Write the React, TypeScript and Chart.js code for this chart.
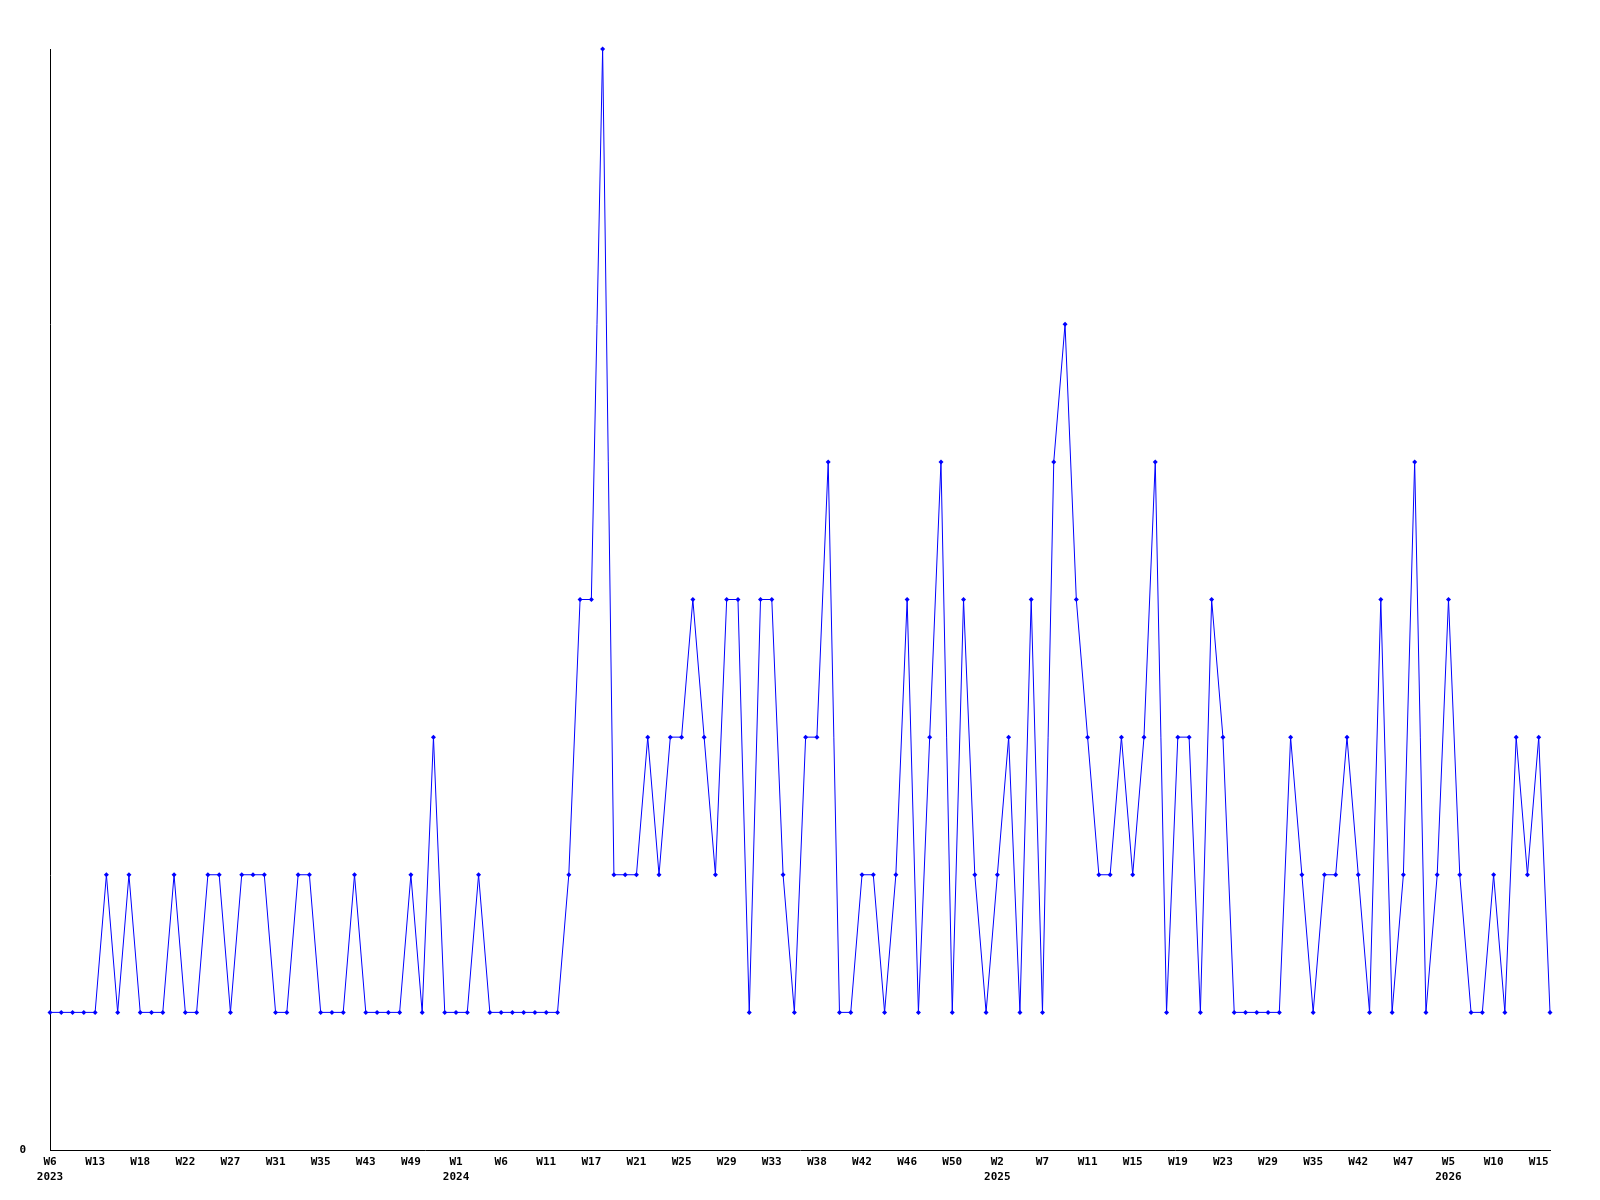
import React, { useEffect, useRef } from "react";
import { Chart, registerables } from "chart.js";

Chart.register(...registerables);

// Tick labels shown every 4th data point (week, optional year on 2nd line)
const tickWeeks: string[] = [
  "W6", "W13", "W18", "W22", "W27", "W31", "W35", "W43", "W49",
  "W1", "W6", "W11", "W17", "W21", "W25", "W29", "W33", "W38", "W42", "W46", "W50",
  "W2", "W7", "W11", "W15", "W19", "W23", "W29", "W35", "W42", "W47",
  "W5", "W10", "W15",
];
const tickYears: string[] = [
  "2023", "", "", "", "", "", "", "", "",
  "2024", "", "", "", "", "", "", "", "", "", "", "",
  "2025", "", "", "", "", "", "", "", "", "",
  "2026", "", "",
];
const labelEvery = 4;

// Weekly counts
const values: number[] = [
  1, 1, 1, 1, 1, 2, 1, 2, 1, 1,
  1, 2, 1, 1, 2, 2, 1, 2, 2, 2,
  1, 1, 2, 2, 1, 1, 1, 2, 1, 1,
  1, 1, 2, 1, 3, 1, 1, 1, 2, 1,
  1, 1, 1, 1, 1, 1, 2, 4, 4, 8,
  2, 2, 2, 3, 2, 3, 3, 4, 3, 2,
  4, 4, 1, 4, 4, 2, 1, 3, 3, 5,
  1, 1, 2, 2, 1, 2, 4, 1, 3, 5,
  1, 4, 2, 1, 2, 3, 1, 4, 1, 5,
  6, 4, 3, 2, 2, 3, 2, 3, 5, 1,
  3, 3, 1, 4, 3, 1, 1, 1, 1, 1,
  3, 2, 1, 2, 2, 3, 2, 1, 4, 1,
  2, 5, 1, 2, 4, 2, 1, 1, 2, 1,
  3, 2, 3, 1,
];

const yMax = 8;

export default function App() {
  const ref = useRef<HTMLCanvasElement | null>(null);

  useEffect(() => {
    if (!ref.current) return;
    const labels = values.map((_, i) => {
      if (i % labelEvery !== 0) return "";
      const k = i / labelEvery;
      const w = tickWeeks[k] ?? "";
      const y = tickYears[k] ?? "";
      return y ? [w, y] : w;
    });
    const font = { family: "'DejaVu Sans Mono', monospace", size: 11, weight: "bold" as const, lineHeight: 1.35 };
    const chart = new Chart(ref.current, {
      type: "line",
      data: {
        labels: labels as any,
        datasets: [
          {
            data: values,
            borderColor: "#0000ff",
            backgroundColor: "#0000ff",
            borderWidth: 1,
            tension: 0,
            pointStyle: "rectRot",
            pointRadius: 2.5,
            pointBorderWidth: 0,
            pointBackgroundColor: "#0000ff",
            fill: false,
            clip: false,
          } as any,
        ],
      },
      options: {
        responsive: false,
        animation: false,
        layout: { padding: { left: 0, right: 50, top: 49, bottom: 0 } },
        plugins: { legend: { display: false }, tooltip: { enabled: false } },
        scales: {
          x: {
            type: "category",
            offset: false,
            grid: { display: false, drawTicks: false },
            border: { display: true, color: "#000000", width: 1 },
            ticks: {
              autoSkip: false,
              maxRotation: 0,
              minRotation: 0,
              padding: 5,
              color: "#000000",
              font,
            },
            afterFit: (s: any) => {
              s.height = 50;
            },
          },
          y: {
            min: 0,
            max: yMax,
            grid: { display: false, drawTicks: false },
            border: { display: true, color: "#000000", width: 1 },
            ticks: {
              stepSize: 1,
              padding: 24,
              color: "#000000",
              font,
              callback: (v: any) => (Number(v) === 0 ? "0" : ""),
            },
            afterFit: (s: any) => {
              s.width = 50;
            },
          },
        },
      },
    });
    return () => chart.destroy();
  }, []);

  return (
    <div style={{ position: "absolute", left: 0, top: 0, width: 1600, height: 1200, background: "#ffffff" }}>
      <canvas ref={ref} width={1600} height={1200} style={{ width: 1600, height: 1200 }} />
    </div>
  );
}
